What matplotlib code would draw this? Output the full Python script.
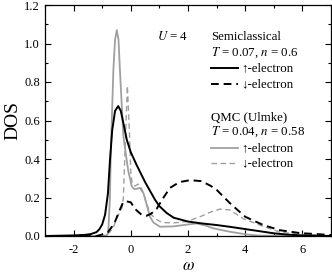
import matplotlib
matplotlib.use("Agg")
import matplotlib.pyplot as plt
from matplotlib.ticker import MultipleLocator

plt.rcParams['font.family'] = ['Liberation Serif', 'DejaVu Serif']
plt.rcParams['mathtext.fontset'] = 'stix'

# Semiclassical, up-electron (black solid)
sc_up_w = [-3, -2, -1.6, -1.4, -1.2, -1.1, -1.0, -0.9, -0.8, -0.73, -0.65, -0.55, -0.44,
           -0.35, -0.25, -0.14, 0.0, 0.2, 0.35, 0.5, 0.67, 0.84, 1.0, 1.25, 1.5, 2.0,
           2.5, 3.0, 3.5, 4.0, 4.5, 5.0, 5.5, 6.0, 7.0]
sc_up_d = [0.0, 0.003, 0.006, 0.01, 0.02, 0.035, 0.06, 0.11, 0.22, 0.39, 0.55, 0.65, 0.675,
           0.65, 0.58, 0.50, 0.435, 0.37, 0.325, 0.28, 0.235, 0.19, 0.155, 0.12, 0.095, 0.075,
           0.065, 0.057, 0.047, 0.036, 0.025, 0.014, 0.007, 0.003, 0.0]

# Semiclassical, down-electron (black dashed)
sc_dn_w = [-3, -1.2, -1.0, -0.8, -0.65, -0.55, -0.4, -0.27, -0.15, 0.0, 0.15, 0.38, 0.55,
           0.7, 0.9, 1.1, 1.37, 1.7, 2.07, 2.47, 2.8, 3.0, 3.47, 4.0, 4.63, 5.22, 5.92, 6.7, 7.0]
sc_dn_d = [0.0, 0.0, 0.008, 0.02, 0.05, 0.075, 0.13, 0.175, 0.18, 0.175, 0.14, 0.11, 0.105,
           0.115, 0.14, 0.19, 0.25, 0.28, 0.29, 0.285, 0.26, 0.24, 0.17, 0.10, 0.057, 0.03,
           0.015, 0.008, 0.005]

# QMC (Ulmke), up-electron (gray solid)
qmc_up_w = [-3, -1.0, -0.9, -0.84, -0.79, -0.73, -0.70, -0.61, -0.55, -0.49, -0.43, -0.38,
            -0.26, -0.15, -0.09, 0.03, 0.1, 0.2, 0.32, 0.45, 0.56, 0.67, 0.79, 1.02, 1.5,
            2.0, 2.3, 2.6, 2.88, 3.2, 3.47, 4.05, 4.5, 7.0]
qmc_up_d = [0.0, 0.0, 0.002, 0.005, 0.014, 0.2, 0.43, 0.86, 1.02, 1.07, 1.02, 0.86,
            0.52, 0.40, 0.34, 0.26, 0.245, 0.245, 0.25, 0.22, 0.16, 0.10, 0.07, 0.048, 0.05,
            0.06, 0.065, 0.055, 0.04, 0.03, 0.022, 0.008, 0.002, 0.0]

# QMC (Ulmke), down-electron (gray dashed)
qmc_dn_w = [-3, -1.0, -0.85, -0.73, -0.6, -0.5, -0.4, -0.3, -0.26, -0.2, -0.12, -0.05,
            0.0, 0.05, 0.15, 0.26, 0.4, 0.55, 0.67, 0.85, 1.1, 1.5, 1.95, 2.42, 2.8, 3.12,
            3.47, 3.93, 4.63, 5.22, 5.8, 7.0]
qmc_dn_d = [0.0, 0.0, 0.008, 0.02, 0.05, 0.09, 0.12, 0.15, 0.2, 0.45, 0.78, 0.55,
            0.33, 0.27, 0.26, 0.27, 0.24, 0.17, 0.12, 0.09, 0.07, 0.068, 0.075, 0.10, 0.125, 0.14,
            0.135, 0.09, 0.05, 0.02, 0.01, 0.002]

GRAY = '#a0a0a0'
styles = {
    'sc_up': dict(color='black', lw=1.4, ls='-'),
    'sc_dn': dict(color='black', lw=1.4, ls=(0, (4, 2.5))),
    'qmc_up': dict(color=GRAY, lw=1.3, ls='-'),
    'qmc_dn': dict(color=GRAY, lw=1.0, ls=(0, (4, 2.5))),
}

fig = plt.figure(figsize=(3.32, 2.77), dpi=100)
ax = fig.add_axes([45 / 332, 1 - 236 / 277, 286 / 332, 231 / 277])

ax.plot(qmc_up_w, qmc_up_d, **styles['qmc_up'])
ax.plot(qmc_dn_w, qmc_dn_d, **styles['qmc_dn'])
ax.plot(sc_up_w, sc_up_d, **styles['sc_up'])
ax.plot(sc_dn_w, sc_dn_d, **styles['sc_dn'])

ax.set_xlim(-3, 7)
ax.set_ylim(0, 1.2)
ax.xaxis.set_minor_locator(MultipleLocator(1))
ax.yaxis.set_minor_locator(MultipleLocator(0.1))
ax.set_xticks([-2, 0, 2, 4, 6])
ax.set_xticklabels(['-2', '0', '2', '4', '6'])
ax.set_yticks([0, 0.2, 0.4, 0.6, 0.8, 1.0, 1.2])
ax.set_yticklabels(['0.0', '0.2', '0.4', '0.6', '0.8', '1.0', '1.2'])
ax.tick_params(which='both', direction='in', top=True, right=True, labelsize=9, width=0.8)
ax.tick_params(which='major', length=4)
ax.tick_params(which='minor', length=2)
ax.tick_params(axis='x', pad=6)
for s in ax.spines.values():
    s.set_linewidth(0.9)

ax.set_ylabel('DOS', fontsize=14, labelpad=2)
ax.set_xlabel(r'$\omega$', fontsize=12, labelpad=1)

# annotations and hand-built legend (axes fractions)
fs = 9.3
trans = ax.transAxes
def yf(py):
    return (236 - py) / 231

ax.text((157 - 45) / 286, yf(37), r'$U$ = 4', fontsize=fs, va='center', transform=trans)
tx = (211 - 45) / 286
ax.text(tx, yf(37), 'Semiclassical', fontsize=fs, va='center', transform=trans)
ax.text(tx, yf(53), r'$T$ = 0.07, $n$ = 0.6', fontsize=fs, va='center', transform=trans)
ax.text(tx, yf(117), 'QMC (Ulmke)', fontsize=fs, va='center', transform=trans)
ax.text(tx, yf(132), r'$T$ = 0.04, $n$ = 0.58', fontsize=fs, va='center', transform=trans)

hx0, hx1, lx = tx, (238 - 45) / 286, (241 - 45) / 286
for key, py, lab in [('sc_up', 68, '↑-electron'), ('sc_dn', 84, '↓-electron'),
                     ('qmc_up', 148, '↑-electron'), ('qmc_dn', 163, '↓-electron')]:
    ax.plot([hx0, hx1], [yf(py), yf(py)], transform=trans, **styles[key])
    ax.text(lx, yf(py), lab, fontsize=fs, va='center', transform=trans)

fig.savefig('out.png', dpi=100)
